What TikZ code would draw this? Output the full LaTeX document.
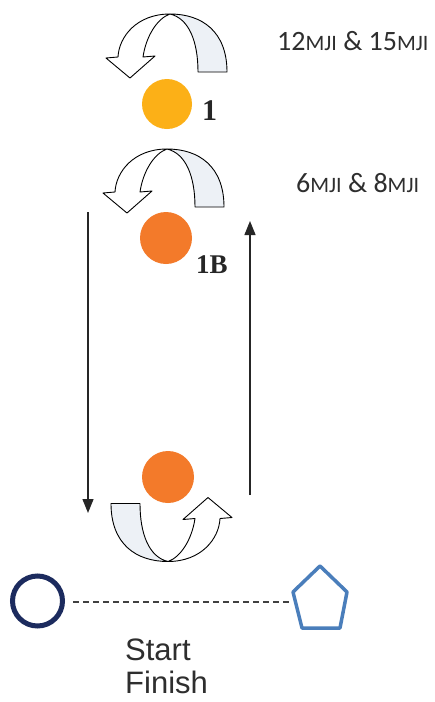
\documentclass[tikz,border=0pt]{standalone}
\usepackage{fontspec}
\setmainfont{Liberation Serif}
\newfontfamily\calib{Carlito}
\newfontfamily\arialf{Liberation Sans}
\usetikzlibrary{arrows.meta}
\definecolor{bandfill}{HTML}{EDF1F6}
\definecolor{gold}{HTML}{FCB017}
\definecolor{orng}{HTML}{F37A2A}
\definecolor{navy}{HTML}{1C2B5E}
\definecolor{pentblue}{HTML}{4A7EBB}
\definecolor{txtgray}{HTML}{2E2E2E}
\tikzset{
  bandline/.style={draw=black, line width=0.9pt, line join=round},
  curvarrow/.pic={
    \path[bandline, fill=bandfill] (31,25.5) -- (60,25.5)
      .. controls (60,-15) and (35,-32.5) .. (3,-32.5)
      .. controls (22,-28) and (31,-5) .. (31,25.5) -- cycle;
    \path[bandline, fill=white] (3,-32.5)
      .. controls (-30,-32.5) and (-48,-10) .. (-49,10.5)
      -- (-61,11.5) -- (-37,31.5) -- (-12,9.5) -- (-24,10.5)
      .. controls (-21,-10) and (-10,-28) .. (3,-32.5) -- cycle;
  },
  ball/.style={circle, inner sep=0pt, minimum size=#1},
  vline/.style={draw=black!85, line width=1.3pt, -{Triangle[length=14pt,width=11pt]}},
  mjitext/.style={font=\calib\fontsize{28}{30}\selectfont, text=txtgray, inner sep=0pt, anchor=base west},
  numlabel/.style={font=\bfseries\fontsize{27}{28}\selectfont, text=black!85, inner sep=0pt, anchor=base west},
  sftext/.style={font=\arialf\fontsize{31}{35}\selectfont, text=txtgray, inner sep=0pt, anchor=base west},
}
\newcommand{\smc}[1]{{\fontsize{22}{24}\selectfont #1}}
\begin{document}
\begin{tikzpicture}[x=1pt,y=-1pt]
\useasboundingbox (0,0) rectangle (435,702);
\fill[white] (0,0) rectangle (435,702);

% curved arrows
\pic at (167,46.5) {curvarrow};
\pic at (164,181.5) {curvarrow};
\pic[rotate=180] at (171,529) {curvarrow};

% balls
\node[ball=50pt, fill=gold] (b1) at (167,104) {};
\node[ball=52pt, fill=orng] (b1b) at (166,238) {};
\node[ball=52pt, fill=orng] (b2) at (168,477) {};

% labels
\node[numlabel, font=\bfseries\fontsize{30}{30}\selectfont] (l1) at (202,120) {1};
\node[numlabel] (l1b) at (196,273) {1B};
\node[mjitext] (t1) at (277,50) {12\smc{MJI} \& 15\smc{MJI}};
\node[mjitext] (t2) at (296,192) {6\smc{MJI} \& 8\smc{MJI}};

% vertical arrows
\coordinate (la) at (88,212);
\coordinate (lb) at (88,513);
\coordinate (ra) at (250,495);
\coordinate (rb) at (250,221);
\draw[vline] (la) -- (lb);
\draw[vline] (ra) -- (rb);

% start / finish
\node[circle, draw=navy, line width=5pt, minimum size=50pt, inner sep=0pt] (start) at (37.5,601) {};
\coordinate (p1) at (320,566);
\coordinate (p2) at (347,592);
\coordinate (p3) at (340,628);
\coordinate (p4) at (302,628);
\coordinate (p5) at (293,592);
\draw[draw=pentblue, line width=3.5pt, line join=round] (p1) -- (p2) -- (p3) -- (p4) -- (p5) -- cycle;
\node[inner sep=0pt, minimum size=1pt] (pent) at (293,602) {};
\draw[draw=black!75, line width=1.5pt, dash pattern=on 6pt off 4pt] (start.east) ++(8,1) -- (pent.west);

\node[sftext] (st) at (125,660) {Start};
\node[sftext] (fi) at (125,693) {Finish};
\end{tikzpicture}
\end{document}
